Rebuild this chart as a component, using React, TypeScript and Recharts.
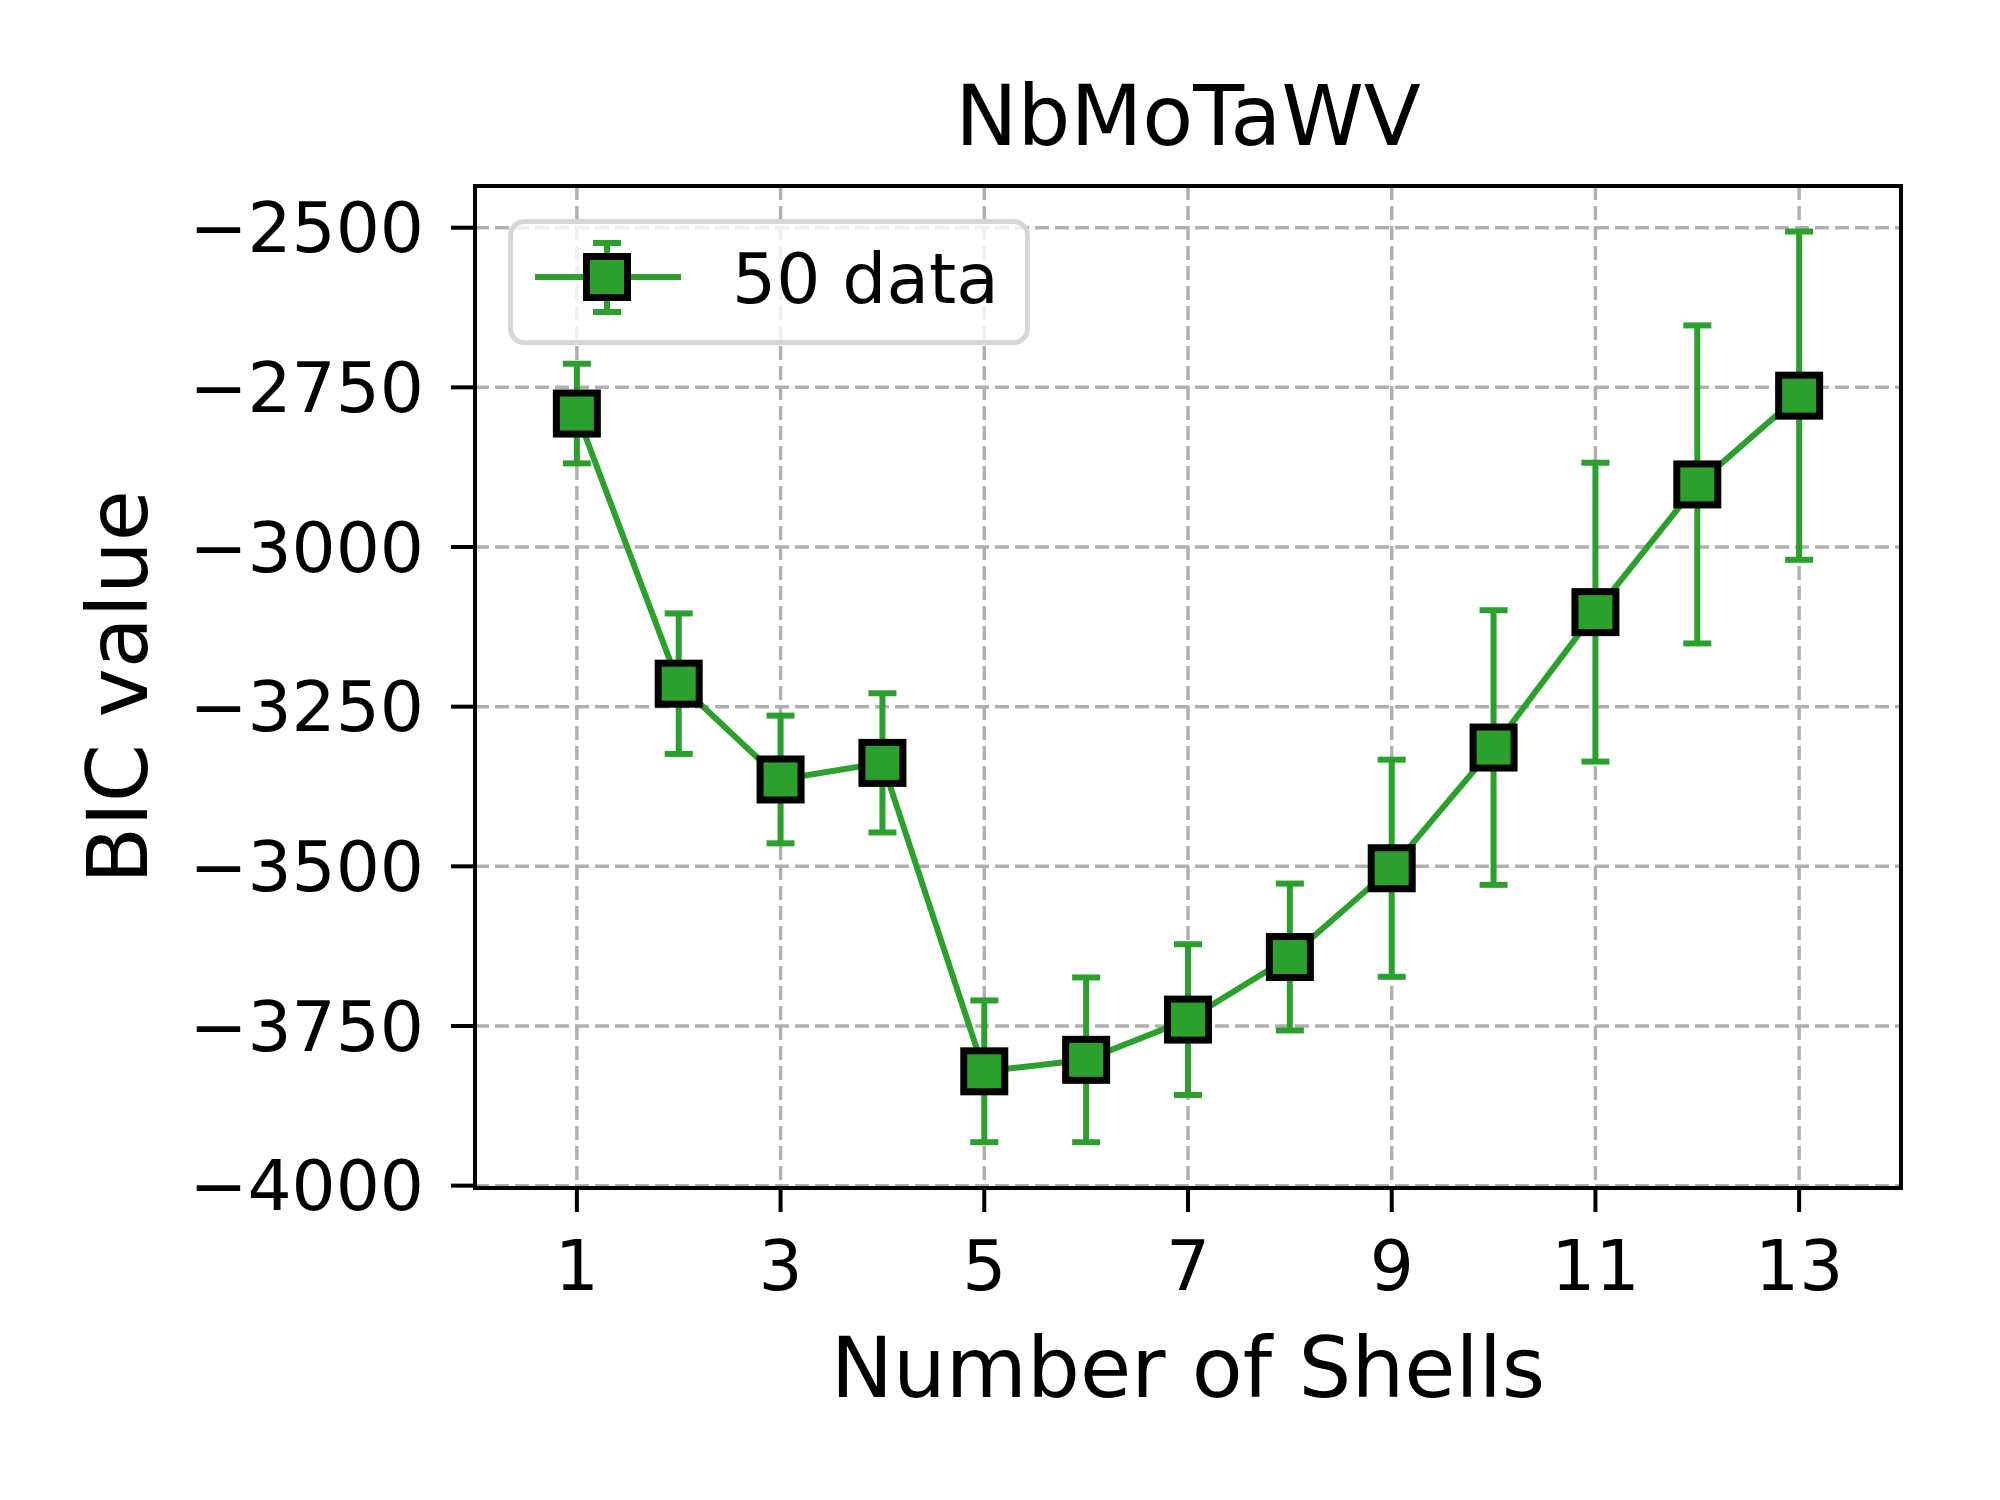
import React from 'react';
import {
  LineChart,
  Line,
  XAxis,
  YAxis,
  CartesianGrid,
  ErrorBar,
  Legend,
  ReferenceArea,
} from 'recharts';

// ---- data ----
const shells = [1, 2, 3, 4, 5, 6, 7, 8, 9, 10, 11, 12, 13];
const bicValues = [-2791, -3214, -3364, -3338, -3821, -3803, -3740, -3642, -3503, -3314, -3102, -2902, -2763];
const bicErrors = [78, 110, 100, 109, 111, 129, 118, 115, 170, 215, 234, 249, 257];
const xTicks = [1, 3, 5, 7, 9, 11, 13];
const yTicks = [-4000, -3750, -3500, -3250, -3000, -2750, -2500];
const xDomain = [0, 14];
const yDomain = [-4003.7, -2434.7];
const chartTitle = 'NbMoTaWV';
const xLabel = 'Number of Shells';
const yLabel = 'BIC value';
const seriesName = '50 data';

const data = shells.map((s, i) => ({ shell: s, bic: bicValues[i], err: bicErrors[i] }));

const GREEN = '#2ca02c';
const FONT = '"DejaVu Sans", sans-serif';
const TICK_FS = 69.4;
const LABEL_FS = 83.3;

const SquareDot = (props: any) => {
  const { cx, cy, index } = props;
  if (cx == null || cy == null) return <g key={`e-${index}`} />;
  return (
    <rect
      key={`d-${index}`}
      x={cx - 20.5}
      y={cy - 20.5}
      width={41}
      height={41}
      fill={GREEN}
      stroke="#000"
      strokeWidth={7}
    />
  );
};

const LegendContent = (props: any) => {
  const label = props.payload && props.payload[0] ? props.payload[0].value : seriesName;
  return (
    <svg width={522} height={126} style={{ display: 'block', overflow: 'visible' }}>
      <rect x={2.5} y={2.5} width={517} height={121} rx={14} ry={14} fill="rgba(255,255,255,0.8)" stroke="#d6d6d6" strokeWidth={5} />
      <line x1={27} y1={58} x2={173} y2={58} stroke={GREEN} strokeWidth={6} />
      <line x1={99} y1={24} x2={99} y2={93} stroke={GREEN} strokeWidth={6} />
      <line x1={85} y1={24} x2={113} y2={24} stroke={GREEN} strokeWidth={6} />
      <line x1={85} y1={93} x2={113} y2={93} stroke={GREEN} strokeWidth={6} />
      <rect x={99 - 20.5} y={58 - 20.5} width={41} height={41} fill={GREEN} stroke="#000" strokeWidth={7} />
      <text x={224} y={84} fontSize={TICK_FS} fontFamily={FONT} fill="#000">{label}</text>
    </svg>
  );
};

const fmtMinus = (v: number) => String(v).replace('-', '\u2212');

export default function App() {
  return (
    <div style={{ position: 'absolute', left: 0, top: 0, width: 2000, height: 1500, background: '#fff' }}>
      <LineChart
        width={2000}
        height={1500}
        data={data}
        margin={{ top: 186, right: 99, bottom: 212, left: 75 }}
      >
        <CartesianGrid stroke="#b0b0b0" strokeWidth={3.5} strokeDasharray="14 6" />
        <XAxis
          type="number"
          dataKey="shell"
          domain={xDomain}
          ticks={xTicks}
          allowDataOverflow
          interval={0}
          height={100}
          tickSize={24}
          tickMargin={29}
          axisLine={false}
          tickLine={{ stroke: '#000', strokeWidth: 4 }}
          tick={{ fontSize: TICK_FS, fill: '#000', fontFamily: FONT }}
        />
        <YAxis
          type="number"
          domain={yDomain}
          ticks={yTicks}
          allowDataOverflow
          interval={0}
          width={400}
          tickSize={24}
          tickMargin={27}
          axisLine={false}
          tickFormatter={fmtMinus}
          tickLine={{ stroke: '#000', strokeWidth: 4 }}
          tick={{ fontSize: TICK_FS, fill: '#000', fontFamily: FONT }}
        />
        <Line
          type="linear"
          dataKey="bic"
          name={seriesName}
          stroke={GREEN}
          strokeWidth={6}
          dot={SquareDot}
          activeDot={false}
          isAnimationActive={false}
        >
          <ErrorBar dataKey="err" direction="y" width={14} strokeWidth={6} stroke={GREEN} isAnimationActive={false} />
        </Line>
        <ReferenceArea
          x1={xDomain[0]}
          x2={xDomain[1]}
          y1={yDomain[0]}
          y2={yDomain[1]}
          fill="none"
          stroke="#000"
          strokeWidth={4}
          ifOverflow="visible"
        />
        <Legend
          layout="vertical"
          align="center"
          verticalAlign="middle"
          content={LegendContent}
          wrapperStyle={{ left: 508, top: 219, width: 522, height: 126, margin: 0 }}
        />
      </LineChart>
      <svg
        width={2000}
        height={1500}
        style={{ position: 'absolute', left: 0, top: 0, pointerEvents: 'none' }}
      >
        <text x={1188} y={145} textAnchor="middle" fontSize={LABEL_FS} fontFamily={FONT} fill="#000">{chartTitle}</text>
        <text x={1188} y={1397} textAnchor="middle" fontSize={LABEL_FS} fontFamily={FONT} fill="#000">{xLabel}</text>
        <text x={147} y={687} textAnchor="middle" fontSize={LABEL_FS} fontFamily={FONT} fill="#000" transform="rotate(-90 147 687)">{yLabel}</text>
      </svg>
    </div>
  );
}
